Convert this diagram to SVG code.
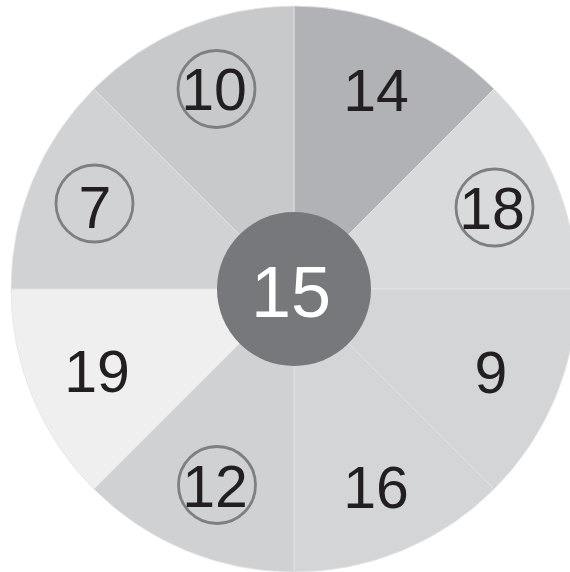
<svg xmlns="http://www.w3.org/2000/svg" width="570" height="572" viewBox="0 0 570 572">
<style>
.sec{stroke:#e4e5e6;stroke-width:0.8;stroke-linejoin:round}
.num{font-family:"Liberation Sans",Arial,Helvetica,sans-serif;font-size:59px;fill:#231f20;text-anchor:middle}
.ring{fill:none;stroke:#7e7f82;stroke-width:2.8}
.ctr{font-family:"Liberation Sans",Arial,Helvetica,sans-serif;font-size:72px;fill:#ffffff;text-anchor:middle}
</style>
<rect width="570" height="572" fill="#ffffff"/>
<g id="s14"><path class="sec" d="M294 289 L294 6 A283 283 0 0 1 494.1 88.9 Z" fill="#b1b2b5"/><text class="num" x="376" y="111">14</text></g>
<g id="s18"><path class="sec" d="M294 289 L494.1 88.9 A283 283 0 0 1 577 289 Z" fill="#d9dadc"/><circle class="ring" cx="494.5" cy="207.5" r="38.5"/><text class="num" x="492" y="229">18</text></g>
<g id="s9"><path class="sec" d="M294 289 L577 289 A283 283 0 0 1 494.1 489.1 Z" fill="#d4d5d7"/><text class="num" x="491" y="393">9</text></g>
<g id="s16"><path class="sec" d="M294 289 L494.1 489.1 A283 283 0 0 1 294 572 Z" fill="#d4d5d7"/><text class="num" x="376" y="508">16</text></g>
<g id="s12"><path class="sec" d="M294 289 L294 572 A283 283 0 0 1 93.9 489.1 Z" fill="#d0d1d3"/><circle class="ring" cx="217" cy="485" r="38.5"/><text class="num" x="215" y="507">12</text></g>
<g id="s19"><path class="sec" d="M294 289 L93.9 489.1 A283 283 0 0 1 11 289 Z" fill="#efefef"/><text class="num" x="97" y="392">19</text></g>
<g id="s7"><path class="sec" d="M294 289 L11 289 A283 283 0 0 1 93.9 88.9 Z" fill="#d1d2d4"/><circle class="ring" cx="94.5" cy="203.5" r="38.5"/><text class="num" x="95" y="228">7</text></g>
<g id="s10"><path class="sec" d="M294 289 L93.9 88.9 A283 283 0 0 1 294 6 Z" fill="#c8c9cb"/><circle class="ring" cx="216.5" cy="89" r="38.5"/><text class="num" x="214" y="110">10</text></g>
<g id="center"><circle cx="294" cy="289" r="77" fill="#77787c"/><text class="ctr" x="291" y="317">15</text></g>
<g id="connectors"/>
</svg>
